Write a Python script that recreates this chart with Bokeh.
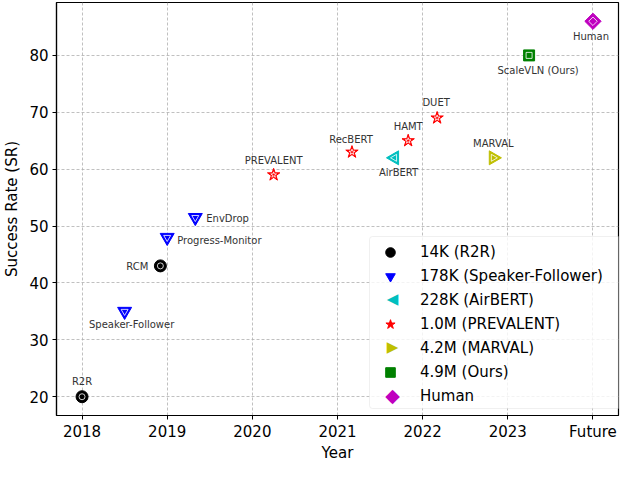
import math
from bokeh.plotting import figure
from bokeh.models import Legend, LegendItem, FixedTicker, Label, BoxAnnotation
from bokeh.embed import file_html
from bokeh.resources import INLINE
from bokeh.core.properties import value

# ---------------- data ----------------
tick_values = [2018, 2019, 2020, 2021, 2022, 2023, 2024]
tick_labels = ["2018", "2019", "2020", "2021", "2022", "2023", "Future"]
y_ticks = [20, 30, 40, 50, 60, 70, 80]

r2r_names = ["R2R", "RCM"]
r2r_x = [2018.0, 2018.92]
r2r_y = [20, 43]

sf_names = ["Speaker-Follower", "Progress-Monitor", "EnvDrop"]
sf_x = [2018.5, 2019.0, 2019.33]
sf_y = [35, 48, 51.5]

air_names = ["AirBERT"]
air_x = [2021.67]
air_y = [62]

prev_names = ["PREVALENT", "RecBERT", "HAMT", "DUET"]
prev_x = [2020.25, 2021.17, 2021.83, 2022.17]
prev_y = [59, 63, 65, 69]

marval_names = ["MARVAL"]
marval_x = [2022.83]
marval_y = [62]

ours_names = ["ScaleVLN (Ours)"]
ours_x = [2023.25]
ours_y = [80]

human_names = ["Human"]
human_x = [2024.0]
human_y = [86]

legend_labels = ["14K (R2R)", "178K (Speaker-Follower)", "228K (AirBERT)",
                 "1.0M (PREVALENT)", "4.2M (MARVAL)", "4.9M (Ours)", "Human"]

# ---------------- styles ----------------
FONT = "DejaVu Sans"
W, H = 620, 464
B_LEFT, B_RIGHT, B_TOP, B_BOTTOM = 48, 2, 2, 41
FRAME_W = W - B_LEFT - B_RIGHT
FRAME_H = H - B_TOP - B_BOTTOM

# label placement: name -> (x_offset px, y_offset px, align)
label_pos = {
    "R2R": (0, -15, "center"),
    "RCM": (-12, 1, "right"),
    "Speaker-Follower": (7, 13, "center"),
    "Progress-Monitor": (10, 3, "left"),
    "EnvDrop": (11, 1, "left"),
    "PREVALENT": (0, -14, "center"),
    "RecBERT": (-1, -13, "center"),
    "AirBERT": (4, 15, "center"),
    "HAMT": (0, -14, "center"),
    "DUET": (-1, -15, "center"),
    "MARVAL": (0, -14, "center"),
    "ScaleVLN (Ours)": (9, 15, "center"),
    "Human": (-2, 15, "center"),
}

p = figure(width=W, height=H,
           x_range=(2017.7, 2024.3), y_range=(16.7, 89.3),
           output_backend="svg", toolbar_location=None,
           min_border_left=B_LEFT, min_border_right=B_RIGHT,
           min_border_top=B_TOP, min_border_bottom=B_BOTTOM)

p.background_fill_color = "white"
p.outline_line_color = "black"
p.outline_line_width = 1.2

for ax in (p.xaxis, p.yaxis):
    ax.major_label_text_font = FONT
    ax.major_label_text_font_size = "15px"
    ax.major_label_text_color = "black"
    ax.axis_label_text_font = FONT
    ax.axis_label_text_font_size = "15px"
    ax.axis_label_text_font_style = "normal"
    ax.axis_label_text_color = "black"
    ax.axis_line_color = "black"
    ax.axis_line_width = 1.2
    ax.major_tick_out = 4
    ax.major_tick_in = 0
    ax.minor_tick_line_color = None
    ax.major_tick_line_color = "black"

p.xaxis.ticker = FixedTicker(ticks=tick_values)
p.xaxis.major_label_overrides = {v: l for v, l in zip(tick_values, tick_labels)}
p.yaxis.ticker = FixedTicker(ticks=y_ticks)
p.xaxis.axis_label = "Year"
p.yaxis.axis_label = "Success Rate (SR)"
p.xaxis.major_label_standoff = 3
p.xaxis.axis_label_standoff = 0
p.yaxis.major_label_standoff = 4
p.yaxis.axis_label_standoff = 5

p.grid.grid_line_color = "#b0b0b0"
p.grid.grid_line_dash = "3 2"
p.grid.grid_line_width = 0.8

# marker, angle, color, size, inner size, legend-symbol override
series = [
    (r2r_x, r2r_y, r2r_names, "circle", 0, "black", 12, 6, None),
    (sf_x, sf_y, sf_names, "inverted_triangle", 0, "blue", 14, 7, None),
    (air_x, air_y, air_names, "triangle", math.pi / 2, "#00bfbf", 14, 7, "\u25C0"),
    (prev_x, prev_y, prev_names, "star", 0, "red", 13, 6, None),
    (marval_x, marval_y, marval_names, "triangle", -math.pi / 2, "#bfbf00", 14, 7, "\u25B6"),
    (ours_x, ours_y, ours_names, "square", 0, "green", 11, 6, None),
    (human_x, human_y, human_names, "square", math.pi / 4, "#bf00bf", 11.5, 6, "\u25C6"),
]

# legend geometry (frame-relative screen units, y measured from frame bottom)
PAD, ROW_H, GLYPH_W, STANDOFF, LABEL_W = 2, 24, 42, 9, 201
LEG_W = 2 * PAD + GLYPH_W + STANDOFF + LABEL_W
LEG_H = 2 * PAD + ROW_H * len(legend_labels)
LOC_X = FRAME_W - LEG_W - 1
LOC_Y = 7
leg_glyph_x = LOC_X + PAD + GLYPH_W / 2
leg_top_y = LOC_Y + LEG_H

# legend background box (drawn beneath the legend, over the grid)
box = BoxAnnotation(left=LOC_X, right=LOC_X + LEG_W, bottom=LOC_Y, top=LOC_Y + LEG_H,
                    left_units="screen", right_units="screen",
                    bottom_units="screen", top_units="screen",
                    fill_color="white", fill_alpha=0.8,
                    line_color="#cccccc", line_width=1, border_radius=3,
                    level="glyph", editable=False)
p.add_layout(box)

items = []
overlays = []
for i, ((xs, ys, names, marker, ang, col, size, inner, sym), lab) in enumerate(zip(series, legend_labels)):
    r = p.scatter(xs, ys, marker=marker, angle=ang, size=size,
                  fill_color=col, line_color=col, line_width=1)
    p.scatter(xs, ys, marker=marker, angle=ang, size=inner,
              fill_color=None, line_color="white", line_width=0.8)
    if sym is None:
        items.append(LegendItem(label=lab, renderers=[r]))
    else:
        ghost = p.scatter(xs, ys, marker="circle", size=1, alpha=0)
        items.append(LegendItem(label=lab, renderers=[ghost]))
        cy = leg_top_y - PAD - ROW_H * i - ROW_H / 2
        overlays.append(Label(x=leg_glyph_x, y=cy, x_units="screen", y_units="screen",
                              text=sym, text_color=col, text_align="center",
                              text_baseline="middle", text_font=FONT,
                              text_font_size="19px" if sym == "\u25C6" else "15px",
                              level="overlay"))
    for x, y, n in zip(xs, ys, names):
        dx, dy, al = label_pos[n]
        p.text([x], [y], text=[n], x_offset=dx, y_offset=dy,
               text_align=al, text_baseline="middle",
               text_font=value(FONT), text_font_size="10px",
               text_color="#333333")

legend = Legend(items=items, location=(LOC_X, LOC_Y), margin=0,
                padding=PAD, spacing=0, glyph_height=ROW_H, glyph_width=GLYPH_W,
                label_height=ROW_H, label_width=LABEL_W, label_standoff=STANDOFF,
                label_text_font=FONT, label_text_font_size="15px",
                label_text_color="black",
                border_line_color=None,
                background_fill_alpha=0.0)
p.add_layout(legend)
for lb in overlays:
    p.add_layout(lb)

open("out.html", "w").write(file_html(p, INLINE))
